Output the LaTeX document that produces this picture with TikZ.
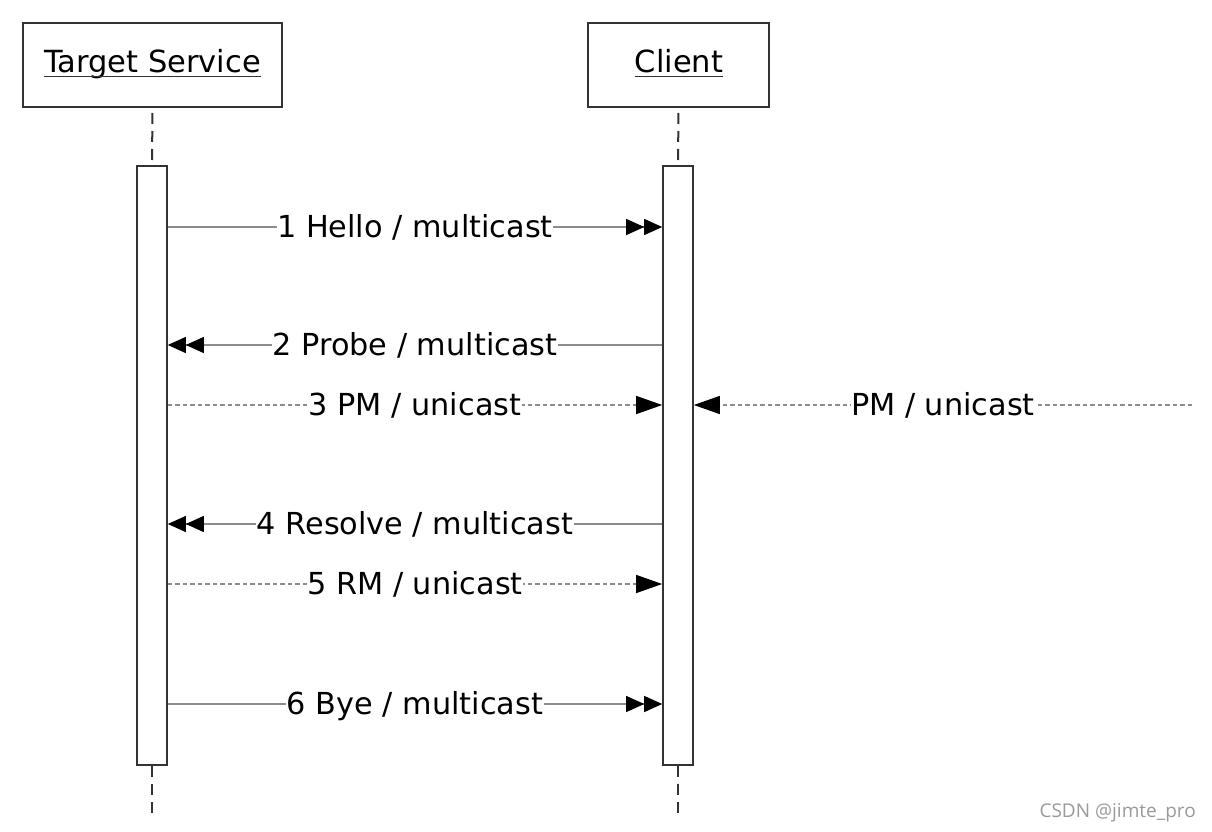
\documentclass[tikz,border=0pt]{standalone}
\usepackage{fontspec}
\setmainfont{DejaVu Sans}
\newfontfamily\wmfont{Open Sans}
\usetikzlibrary{arrows.meta}
\definecolor{boxline}{HTML}{333333}
\definecolor{msgline}{HTML}{8C8C8C}
\definecolor{wmgray}{HTML}{9A9A9A}
\tikzset{
  head/.style={draw=boxline, line width=2pt, fill=white, minimum width=259pt, minimum height=84pt, inner sep=0pt},
  headtxt/.style={anchor=base, inner sep=0pt, font=\fontsize{30.5}{35}\selectfont},
  act/.style={draw=boxline, line width=1.6pt, fill=white, minimum width=30pt, minimum height=599pt, inner sep=0pt},
  life/.style={draw=boxline, line width=2pt, dash pattern=on 11pt off 7pt},
  msg/.style={draw=msgline, line width=1.2pt},
  dmsg/.style={msg, dash pattern=on 4.5pt off 3pt},
  multi/.style={-{Triangle[length=18pt,width=16pt,color=black]Triangle[length=18pt,width=16pt,color=black]}},
  uni/.style={-{Triangle[length=26pt,width=18pt,color=black]}},
  lbl/.style={anchor=base, yshift=-10.8pt, fill=white, inner ysep=0pt, inner xsep=0.5pt, text=black, font=\fontsize{30.3}{35}\selectfont},
  underl/.style={draw=boxline, line width=1.5pt}
}
\begin{document}
\begin{tikzpicture}[x=1pt,y=-1pt]
\useasboundingbox (0,0) rectangle (1212,832);
% heads
\node[head] (ts) at (152.5,65) {};
\node[head, minimum width=181pt] (cl) at (678.5,65) {};
\node[headtxt] (tst) at (152.5,73) {Target Service};
\node[headtxt] (clt) at (679,73) {Client};
\draw[underl] ([yshift=-3.5pt]tst.base west) -- ([yshift=-3.5pt]tst.base east);
\draw[underl] ([yshift=-3.5pt]clt.base west) -- ([yshift=-3.5pt]clt.base east);
% activations
\node[act] (tsact) at (152,465.5) {};
\node[act] (clact) at (678,465.5) {};
% lifelines
\coordinate (tsend) at (152,815);
\coordinate (clend) at (678,815);
\draw[life, dash phase=-5pt] (ts.south) -- (tsact.north);
\draw[life, dash phase=-5pt] (cl.south) -- (clact.north);
\draw[life] (tsact.south) -- (tsend);
\draw[life] (clact.south) -- (clend);
% message rows
\coordinate (r1) at (0,227);
\coordinate (r2) at (0,345);
\coordinate (r3) at (0,405);
\coordinate (r4) at (0,524);
\coordinate (r5) at (0,584);
\coordinate (r6) at (0,704);
\coordinate (pmstart) at (1192,405);
% messages
\draw[msg, multi] (tsact.east |- r1) -- node[lbl] (l1) {1 Hello / multicast} (clact.west |- r1);
\draw[msg, multi] (clact.west |- r2) -- node[lbl] (l2) {2 Probe / multicast} (tsact.east |- r2);
\draw[dmsg, uni] (tsact.east |- r3) -- node[lbl] (l3) {3 PM / unicast} (clact.west |- r3);
\draw[dmsg, uni] (pmstart) -- node[lbl] (lpm) {PM / unicast} (clact.east |- r3);
\draw[msg, multi] (clact.west |- r4) -- node[lbl] (l4) {4 Resolve / multicast} (tsact.east |- r4);
\draw[dmsg, uni] (tsact.east |- r5) -- node[lbl] (l5) {5 RM / unicast} (clact.west |- r5);
\draw[msg, multi] (tsact.east |- r6) -- node[lbl] (l6) {6 Bye / multicast} (clact.west |- r6);
% watermark
\node[anchor=base east, inner sep=0pt, text=wmgray, font=\wmfont\fontsize{19}{22}\selectfont] (wm) at (1196,817) {CSDN @jimte\_pro};
\end{tikzpicture}
\end{document}
